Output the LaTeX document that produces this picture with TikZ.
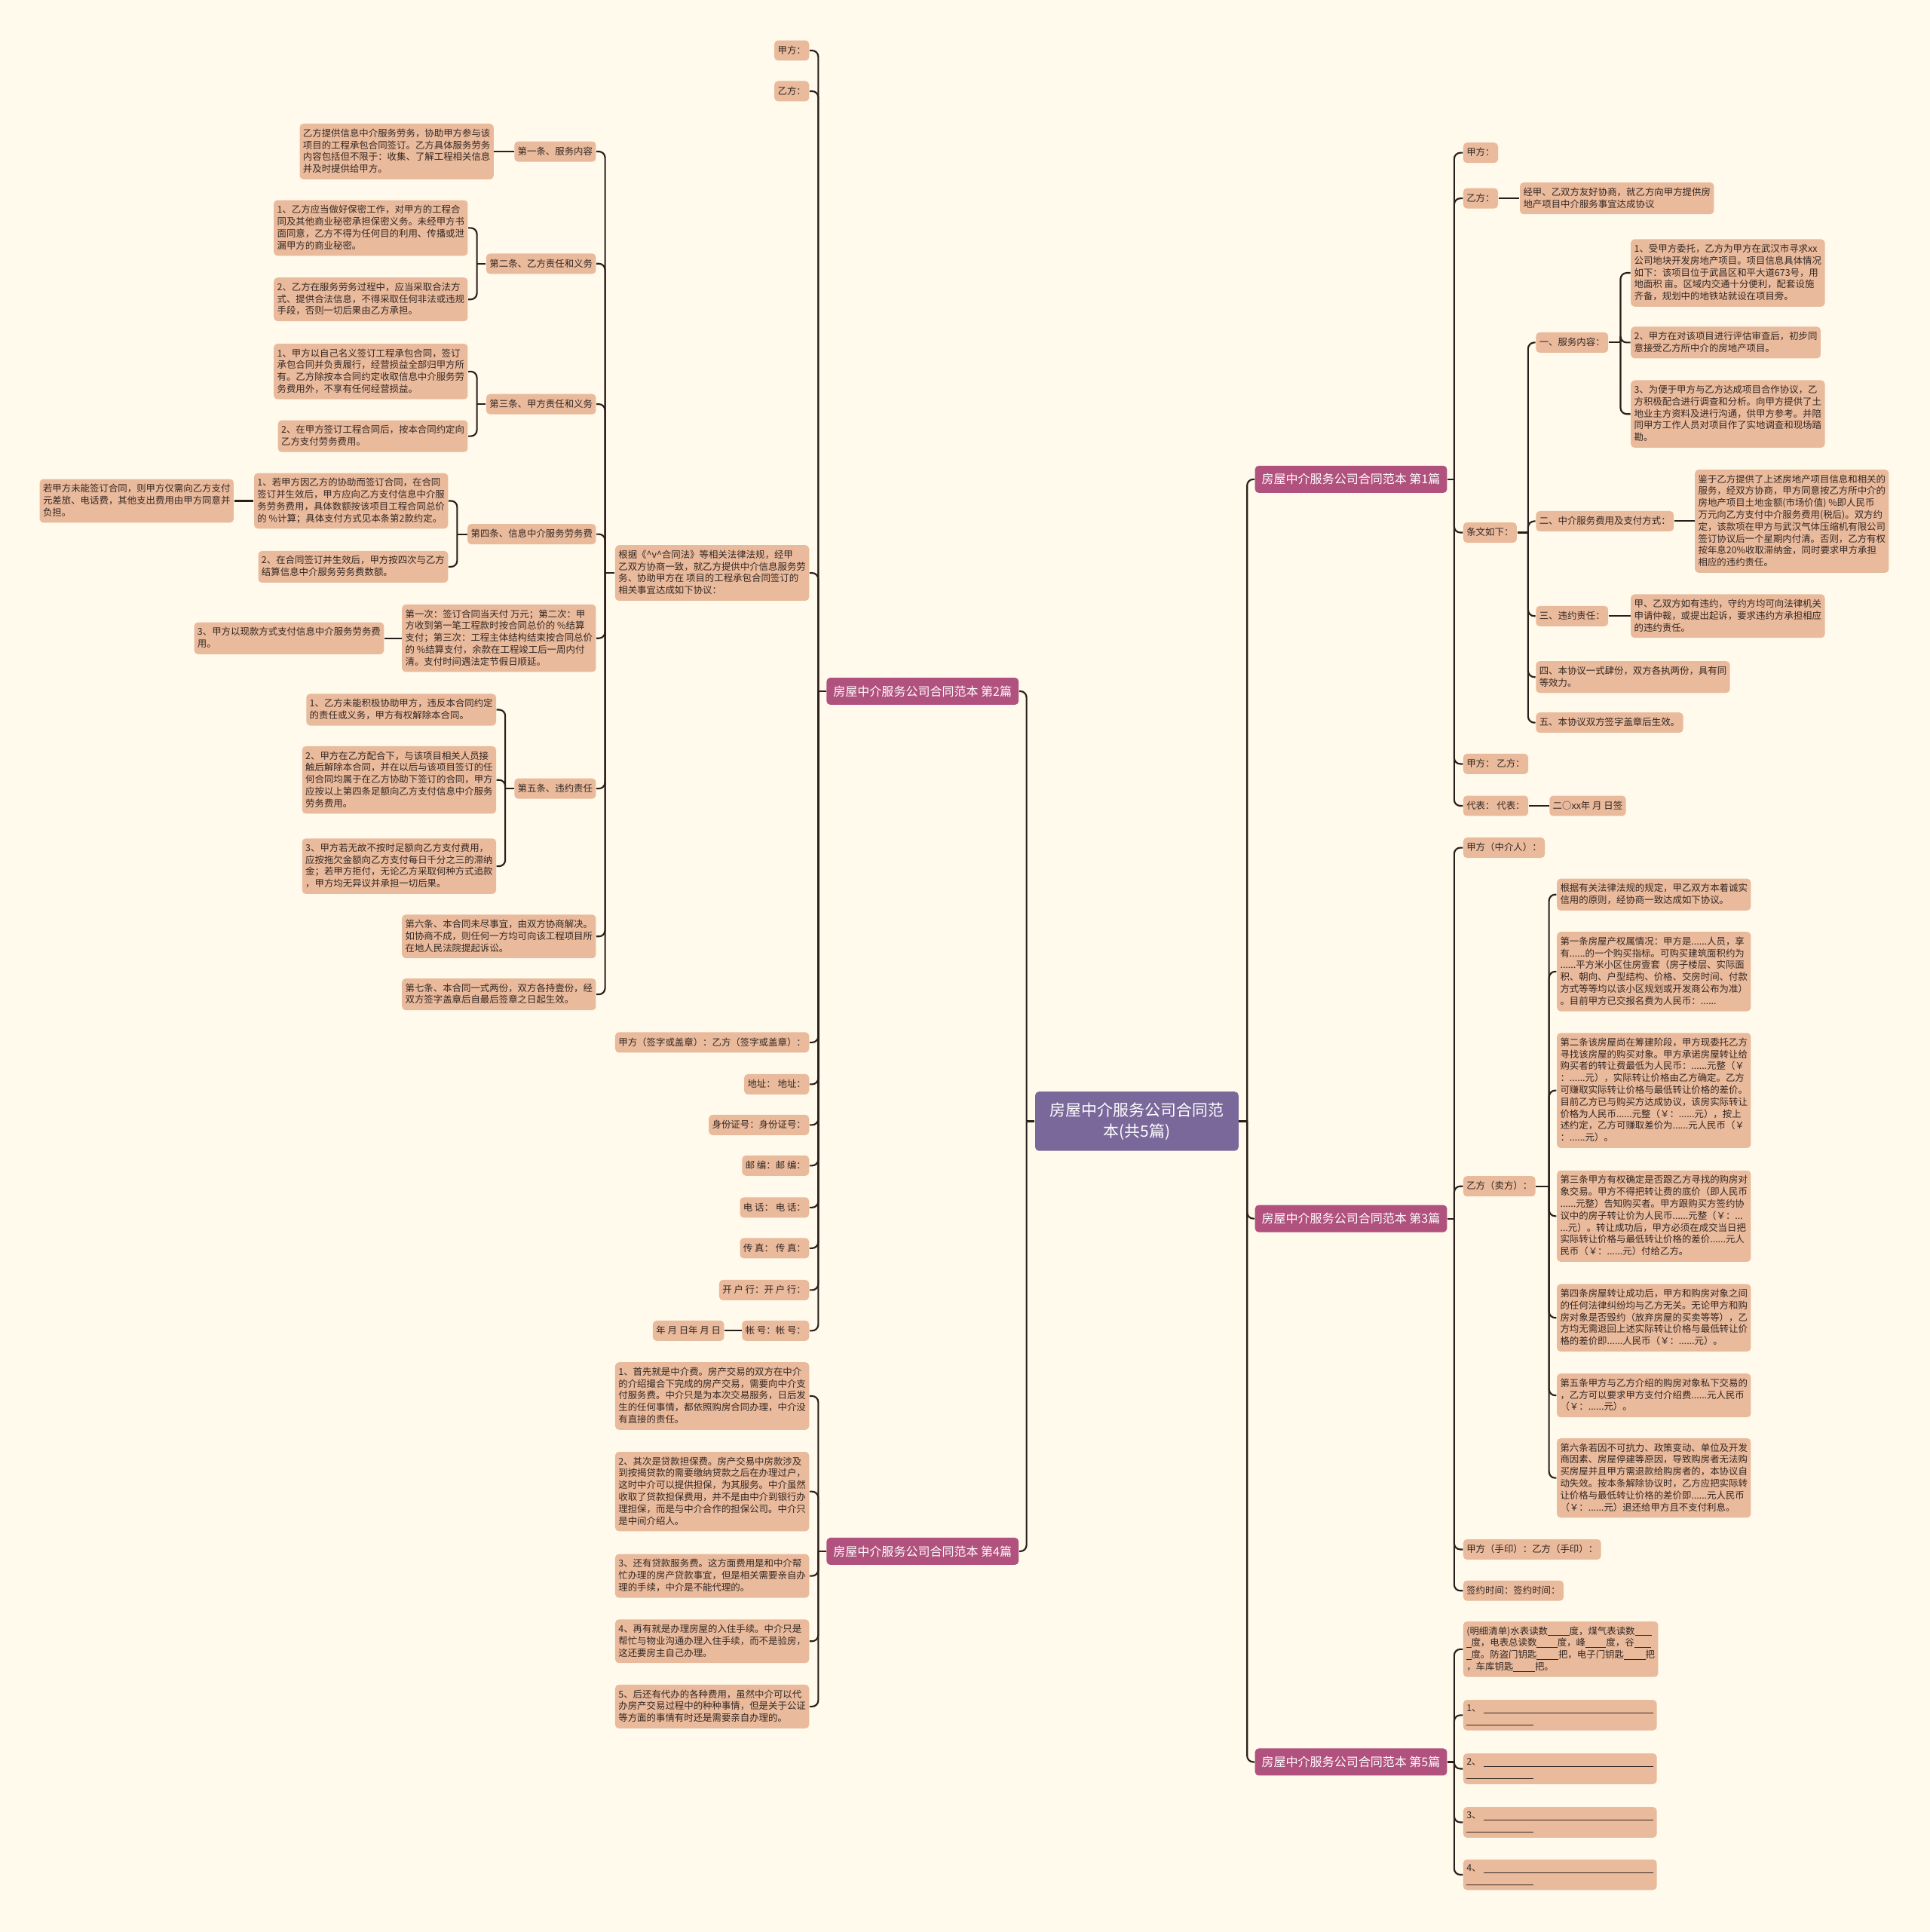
\documentclass[tikz,border=0pt]{standalone}
\usepackage{fontspec}
\setmainfont{Noto Sans CJK SC}
\definecolor{bgc}{RGB}{255,250,235}
\definecolor{leaffill}{RGB}{234,186,156}
\definecolor{brfill}{RGB}{176,81,126}
\definecolor{rootfill}{RGB}{122,104,154}
\definecolor{linec}{RGB}{42,30,26}
\definecolor{txtc}{RGB}{51,40,36}
\newcommand\mmL[3]{\draw[conn] (#2.east) -- (#2.east -| #3) -- (#3 |- #1.west);}
\newcommand\mmR[3]{\draw[conn] (#2.west) -- (#2.west -| #3) -- (#3 |- #1.east);}
\newcommand\mmsL[2]{\draw[conn] (#1.west) -- (#1.west -| #2);}
\newcommand\mmsR[2]{\draw[conn] (#1.east) -- (#1.east -| #2);}
\newcommand\mmdL[2]{\draw[conn] (#1.west) -- (#2.east);}
\newcommand\mmdR[2]{\draw[conn] (#1.east) -- (#2.west);}
\newcommand\blk[1]{\rule[-0.15em]{#1}{0.07em}}
\newcommand\blankA{\rule[-0.2em]{18.1em}{0.08em}\\\rule[-0.2em]{7.1em}{0.08em}}
\begin{document}
\begin{tikzpicture}[x=0.5pt,y=-0.5pt,
 leaf/.style={fill=leaffill, text=txtc, rounded corners=1.5pt, align=left, inner xsep=1.35pt, inner ysep=2.02pt,
   font=\fontsize{3.8pt}{4.83pt}\selectfont,
   execute at begin node={\rule[-0.8pt]{0pt}{4.2pt}},
   execute at end node={\rule[-0.8pt]{0pt}{4.2pt}}},
 brch/.style={fill=brfill, text=white, rounded corners=1.5pt, inner xsep=2.75pt, inner ysep=0pt, minimum height=11pt,
   font=\fontsize{4.9pt}{5.9pt}\selectfont},
 rootbox/.style={fill=rootfill, text=white, rounded corners=1.5pt, align=center, minimum width=82.5pt,
   minimum height=24pt, inner sep=0pt, font=\fontsize{6.4pt}{8.7pt}\selectfont},
 conn/.style={draw=linec, line width=0.65pt, rounded corners=2.5pt}]
\fill[bgc] (0,0) rectangle (1566,1568);
\useasboundingbox (0,0) rectangle (1566,1568);

% trunks
\coordinate (TR0) at (833,0);
\coordinate (TR1) at (1012,0);
\coordinate (T2) at (664,0);
\coordinate (TG) at (491,0);
\coordinate (TG2) at (387,0);
\coordinate (TG4) at (371,0);
\coordinate (TG6) at (410,0);
\coordinate (T1) at (1180,0);
\coordinate (TW) at (1240,0);
\coordinate (TF) at (1315,0);
\coordinate (TY) at (1257,0);

% root and branches
\node[rootbox] (root) at (922.5,910) {房屋中介服务公司合同范\\本(共5篇)};
\node[brch,anchor=east] (b2) at (827,561) {房屋中介服务公司合同范本 第2篇};
\node[brch,anchor=east] (b4) at (827,1259) {房屋中介服务公司合同范本 第4篇};
\node[brch,anchor=west] (b1) at (1018,389) {房屋中介服务公司合同范本 第1篇};
\node[brch,anchor=west] (b3) at (1018,989) {房屋中介服务公司合同范本 第3篇};
\node[brch,anchor=west] (b5) at (1018,1430) {房屋中介服务公司合同范本 第5篇};

% ===== branch 2 =====
\node[leaf,anchor=east] (A) at (657,41) {甲方：};
\node[leaf,anchor=east] (B) at (657,74) {乙方：};
\node[leaf,anchor=east] (gj) at (657,465) {根据《\textasciicircum v\textasciicircum 合同法》等相关法律法规，经甲\\乙双方协商一致，就乙方提供中介信息服务劳\\务、协助甲方在 项目的工程承包合同签订的\\相关事宜达成如下协议：};
\node[leaf,anchor=east] (D) at (657,846) {甲方（签字或盖章）：乙方（签字或盖章）：};
\node[leaf,anchor=east] (E) at (657,880) {地址： 地址：};
\node[leaf,anchor=east] (F) at (657,913) {身份证号：身份证号：};
\node[leaf,anchor=east] (G) at (657,946) {邮 编：邮 编：};
\node[leaf,anchor=east] (H) at (657,980) {电 话： 电 话：};
\node[leaf,anchor=east] (I) at (657,1013) {传 真： 传 真：};
\node[leaf,anchor=east] (J) at (657,1047) {开 户 行：开 户 行：};
\node[leaf,anchor=east] (K) at (657,1080) {帐 号：帐 号：};
\node[leaf,anchor=east] (K1) at (588,1080) {年 月 日年 月 日};

\node[leaf,anchor=east] (g1) at (484,123) {第一条、服务内容};
\node[leaf,anchor=east] (g1a) at (401,123) {乙方提供信息中介服务劳务，协助甲方参与该\\项目的工程承包合同签订。乙方具体服务劳务\\内容包括但不限于：收集、了解工程相关信息\\并及时提供给甲方。};
\node[leaf,anchor=east] (g2) at (484,214) {第二条、乙方责任和义务};
\node[leaf,anchor=east] (g2a) at (380,185) {1、乙方应当做好保密工作，对甲方的工程合\\同及其他商业秘密承担保密义务。未经甲方书\\面同意，乙方不得为任何目的利用、传播或泄\\漏甲方的商业秘密。};
\node[leaf,anchor=east] (g2b) at (380,243) {2、乙方在服务劳务过程中，应当采取合法方\\式、提供合法信息，不得采取任何非法或违规\\手段，否则一切后果由乙方承担。};
\node[leaf,anchor=east] (g3) at (484,328) {第三条、甲方责任和义务};
\node[leaf,anchor=east] (g3a) at (380,301.5) {1、甲方以自己名义签订工程承包合同，签订\\承包合同并负责履行，经营损益全部归甲方所\\有。乙方除按本合同约定收取信息中介服务劳\\务费用外，不享有任何经营损益。};
\node[leaf,anchor=east] (g3b) at (380,354) {2、在甲方签订工程合同后，按本合同约定向\\乙方支付劳务费用。};
\node[leaf,anchor=east] (g4) at (484,433.5) {第四条、信息中介服务劳务费};
\node[leaf,anchor=east] (g4a) at (364,406.5) {1、若甲方因乙方的协助而签订合同，在合同\\签订并生效后，甲方应向乙方支付信息中介服\\务劳务费用，具体数额按该项目工程合同总价\\的 \%计算；具体支付方式见本条第2款约定。};
\node[leaf,anchor=east] (g4a1) at (190,406.5) {若甲方未能签订合同，则甲方仅需向乙方支付\\元差旅、电话费，其他支出费用由甲方同意并\\负担。};
\node[leaf,anchor=east] (g4b) at (364,460) {2、在合同签订并生效后，甲方按四次与乙方\\结算信息中介服务劳务费数额。};
\node[leaf,anchor=east] (g5) at (484,518) {第一次：签订合同当天付 万元；第二次：甲\\方收到第一笔工程款时按合同总价的 \%结算\\支付；第三次：工程主体结构结束按合同总价\\的 \%结算支付，余款在工程竣工后一周内付\\清。支付时间遇法定节假日顺延。};
\node[leaf,anchor=east] (g5a) at (312,518) {3、甲方以现款方式支付信息中介服务劳务费\\用。};
\node[leaf,anchor=east] (g6) at (484,640) {第五条、违约责任};
\node[leaf,anchor=east] (g6a) at (403,576) {1、乙方未能积极协助甲方，违反本合同约定\\的责任或义务，甲方有权解除本合同。};
\node[leaf,anchor=east] (g6b) at (403,633) {2、甲方在乙方配合下，与该项目相关人员接\\触后解除本合同，并在以后与该项目签订的任\\何合同均属于在乙方协助下签订的合同，甲方\\应按以上第四条足额向乙方支付信息中介服务\\劳务费用。};
\node[leaf,anchor=east] (g6c) at (403,703) {3、甲方若无故不按时足额向乙方支付费用，\\应按拖欠金额向乙方支付每日千分之三的滞纳\\金；若甲方拒付，无论乙方采取何种方式追款\\，甲方均无异议并承担一切后果。};
\node[leaf,anchor=east] (g7) at (484,760) {第六条、本合同未尽事宜，由双方协商解决。\\如协商不成，则任何一方均可向该工程项目所\\在地人民法院提起诉讼。};
\node[leaf,anchor=east] (g8) at (484,807) {第七条、本合同一式两份，双方各持壹份，经\\双方签字盖章后自最后签章之日起生效。};

% ===== branch 4 =====
\node[leaf,anchor=east] (f1) at (657,1133) {1、首先就是中介费。房产交易的双方在中介\\的介绍撮合下完成的房产交易，需要向中介支\\付服务费。中介只是为本次交易服务，日后发\\生的任何事情，都依照购房合同办理，中介没\\有直接的责任。};
\node[leaf,anchor=east] (f2) at (657,1210.5) {2、其次是贷款担保费。房产交易中房款涉及\\到按揭贷款的需要缴纳贷款之后在办理过户，\\这时中介可以提供担保，为其服务。中介虽然\\收取了贷款担保费用，并不是由中介到银行办\\理担保，而是与中介合作的担保公司。中介只\\是中间介绍人。};
\node[leaf,anchor=east] (f3) at (657,1279) {3、还有贷款服务费。这方面费用是和中介帮\\忙办理的房产贷款事宜，但是相关需要亲自办\\理的手续，中介是不能代理的。};
\node[leaf,anchor=east] (f4) at (657,1332) {4、再有就是办理房屋的入住手续。中介只是\\帮忙与物业沟通办理入住手续，而不是验房，\\这还要房主自己办理。};
\node[leaf,anchor=east] (f5) at (657,1385) {5、后还有代办的各种费用，虽然中介可以代\\办房产交易过程中的种种事情，但是关于公证\\等方面的事情有时还是需要亲自办理的。};

% ===== branch 1 =====
\node[leaf,anchor=west] (r1a) at (1187,124) {甲方：};
\node[leaf,anchor=west] (r1b) at (1187,161) {乙方：};
\node[leaf,anchor=west] (r1b1) at (1233,161) {经甲、乙双方友好协商，就乙方向甲方提供房\\地产项目中介服务事宜达成协议};
\node[leaf,anchor=west] (r1c) at (1187,432.25) {条文如下：};
\node[leaf,anchor=west] (r1c1) at (1246,278) {一、服务内容：};
\node[leaf,anchor=west] (s1) at (1323,221.5) {1、受甲方委托，乙方为甲方在武汉市寻求xx\\公司地块开发房地产项目。项目信息具体情况\\如下：该项目位于武昌区和平大道673号，用\\地面积 亩。区域内交通十分便利，配套设施\\齐备，规划中的地铁站就设在项目旁。};
\node[leaf,anchor=west] (s2) at (1323,278) {2、甲方在对该项目进行评估审查后，初步同\\意接受乙方所中介的房地产项目。};
\node[leaf,anchor=west] (s3) at (1323,336) {3、为便于甲方与乙方达成项目合作协议，乙\\方积极配合进行调查和分析。向甲方提供了土\\地业主方资料及进行沟通，供甲方参考。并陪\\同甲方工作人员对项目作了实地调查和现场踏\\勘。};
\node[leaf,anchor=west] (r1c2) at (1246,423) {二、中介服务费用及支付方式：};
\node[leaf,anchor=west] (r1c2a) at (1375,423) {鉴于乙方提供了上述房地产项目信息和相关的\\服务，经双方协商，甲方同意按乙方所中介的\\房地产项目土地金额(市场价值) \%即人民币\\万元向乙方支付中介服务费用(税后)。双方约\\定，该款项在甲方与武汉气体压缩机有限公司\\签订协议后一个星期内付清。否则，乙方有权\\按年息20\%收取滞纳金，同时要求甲方承担\\相应的违约责任。};
\node[leaf,anchor=west] (r1c3) at (1246,500) {三、违约责任：};
\node[leaf,anchor=west] (r1c3a) at (1323,500) {甲、乙双方如有违约，守约方均可向法律机关\\申请仲裁，或提出起诉，要求违约方承担相应\\的违约责任。};
\node[leaf,anchor=west] (r1c4) at (1246,549.5) {四、本协议一式肆份，双方各执两份，具有同\\等效力。};
\node[leaf,anchor=west] (r1c5) at (1246,586.5) {五、本协议双方签字盖章后生效。};
\node[leaf,anchor=west] (r1d) at (1187,620) {甲方： 乙方：};
\node[leaf,anchor=west] (r1e) at (1187,654) {代表： 代表：};
\node[leaf,anchor=west] (r1e1) at (1257,654) {二○xx年 月 日签};

% ===== branch 3 =====
\node[leaf,anchor=west] (r3a) at (1187,688) {甲方（中介人）：};
\node[leaf,anchor=west] (r3b) at (1187,962.75) {乙方（卖方）：};
\node[leaf,anchor=west] (u1) at (1263,726) {根据有关法律法规的规定，甲乙双方本着诚实\\信用的原则，经协商一致达成如下协议。};
\node[leaf,anchor=west] (u2) at (1263,788.5) {第一条房屋产权属情况：甲方是......人员，享\\有......的一个购买指标。可购买建筑面积约为\\......平方米小区住房壹套（房子楼层、实际面\\积、朝向、户型结构、价格、交房时间、付款\\方式等等均以该小区规划或开发商公布为准）\\。目前甲方已交报名费为人民币：......};
\node[leaf,anchor=west] (u3) at (1263,885) {第二条该房屋尚在筹建阶段，甲方现委托乙方\\寻找该房屋的购买对象。甲方承诺房屋转让给\\购买者的转让费最低为人民币：......元整（￥\\：......元），实际转让价格由乙方确定。乙方\\可赚取实际转让价格与最低转让价格的差价。\\目前乙方已与购买方达成协议，该房实际转让\\价格为人民币......元整（￥：......元），按上\\述约定，乙方可赚取差价为......元人民币（￥\\：......元）。};
\node[leaf,anchor=west] (u4) at (1263,987) {第三条甲方有权确定是否跟乙方寻找的购房对\\象交易。甲方不得把转让费的底价（即人民币\\......元整）告知购买者。甲方跟购买方签约协\\议中的房子转让价为人民币......元整（￥：...\\...元）。转让成功后，甲方必须在成交当日把\\实际转让价格与最低转让价格的差价......元人\\民币（￥：......元）付给乙方。};
\node[leaf,anchor=west] (u5) at (1263,1069.5) {第四条房屋转让成功后，甲方和购房对象之间\\的任何法律纠纷均与乙方无关。无论甲方和购\\房对象是否毁约（放弃房屋的买卖等等），乙\\方均无需退回上述实际转让价格与最低转让价\\格的差价即......人民币（￥：......元）。};
\node[leaf,anchor=west] (u6) at (1263,1132.5) {第五条甲方与乙方介绍的购房对象私下交易的\\，乙方可以要求甲方支付介绍费......元人民币\\（￥：......元）。};
\node[leaf,anchor=west] (u7) at (1263,1199.5) {第六条若因不可抗力、政策变动、单位及开发\\商因素、房屋停建等原因，导致购房者无法购\\买房屋并且甲方需退款给购房者的，本协议自\\动失效。按本条解除协议时，乙方应把实际转\\让价格与最低转让价格的差价即......元人民币\\（￥：......元）退还给甲方且不支付利息。};
\node[leaf,anchor=west] (r3c) at (1187,1257.5) {甲方（手印）：乙方（手印）：};
\node[leaf,anchor=west] (r3d) at (1187,1291) {签约时间：签约时间：};

% ===== branch 5 =====
\node[leaf,anchor=west] (v1) at (1187,1338.5) {(明细清单)水表读数\blk{2.3em}度，煤气表读数\blk{1.8em}\\\blk{0.5em}度，电表总读数\blk{2.2em}度，峰\blk{2.2em}度，谷\blk{1.8em}\\\blk{0.5em}度。防盗门钥匙\blk{2.3em}把，电子门钥匙\blk{2.3em}把\\，车库钥匙\blk{2.3em}把。};
\node[leaf,anchor=west] (v2) at (1187,1392) {1、\hspace{0.3em}\blankA};
\node[leaf,anchor=west] (v3) at (1187,1435.5) {2、\hspace{0.3em}\blankA};
\node[leaf,anchor=west] (v4) at (1187,1479) {3、\hspace{0.3em}\blankA};
\node[leaf,anchor=west] (v5) at (1187,1521.5) {4、\hspace{0.3em}\blankA};

% ===== connectors =====
\mmsL{root}{TR0} \mmL{root}{b2}{TR0} \mmL{root}{b4}{TR0}
\mmsR{root}{TR1} \mmR{root}{b1}{TR1} \mmR{root}{b3}{TR1} \mmR{root}{b5}{TR1}

\mmsL{b2}{T2}
\foreach \c in {A,B,gj,D,E,F,G,H,I,J,K} {\mmL{b2}{\c}{T2}}
\mmdL{K}{K1}
\mmsL{gj}{TG}
\foreach \c in {g1,g2,g3,g4,g5,g6,g7,g8} {\mmL{gj}{\c}{TG}}
\mmdL{g1}{g1a}
\mmsL{g2}{TG2} \mmL{g2}{g2a}{TG2} \mmL{g2}{g2b}{TG2}
\mmsL{g3}{TG2} \mmL{g3}{g3a}{TG2} \mmL{g3}{g3b}{TG2}
\mmsL{g4}{TG4} \mmL{g4}{g4a}{TG4} \mmL{g4}{g4b}{TG4}
\mmdL{g4a}{g4a1}
\mmdL{g5}{g5a}
\mmsL{g6}{TG6} \mmL{g6}{g6a}{TG6} \mmL{g6}{g6b}{TG6} \mmL{g6}{g6c}{TG6}

\mmsL{b4}{T2}
\foreach \c in {f1,f2,f3,f4,f5} {\mmL{b4}{\c}{T2}}

\mmsR{b1}{T1}
\foreach \c in {r1a,r1b,r1c,r1d,r1e} {\mmR{b1}{\c}{T1}}
\mmdR{r1b}{r1b1}
\mmdR{r1e}{r1e1}
\mmsR{r1c}{TW}
\foreach \c in {r1c1,r1c2,r1c3,r1c4,r1c5} {\mmR{r1c}{\c}{TW}}
\mmsR{r1c1}{TF}
\foreach \c in {s1,s2,s3} {\mmR{r1c1}{\c}{TF}}
\mmdR{r1c2}{r1c2a}
\mmdR{r1c3}{r1c3a}

\mmsR{b3}{T1}
\foreach \c in {r3a,r3b,r3c,r3d} {\mmR{b3}{\c}{T1}}
\mmsR{r3b}{TY}
\foreach \c in {u1,u2,u3,u4,u5,u6,u7} {\mmR{r3b}{\c}{TY}}

\mmsR{b5}{T1}
\foreach \c in {v1,v2,v3,v4,v5} {\mmR{b5}{\c}{T1}}
\end{tikzpicture}
\end{document}
